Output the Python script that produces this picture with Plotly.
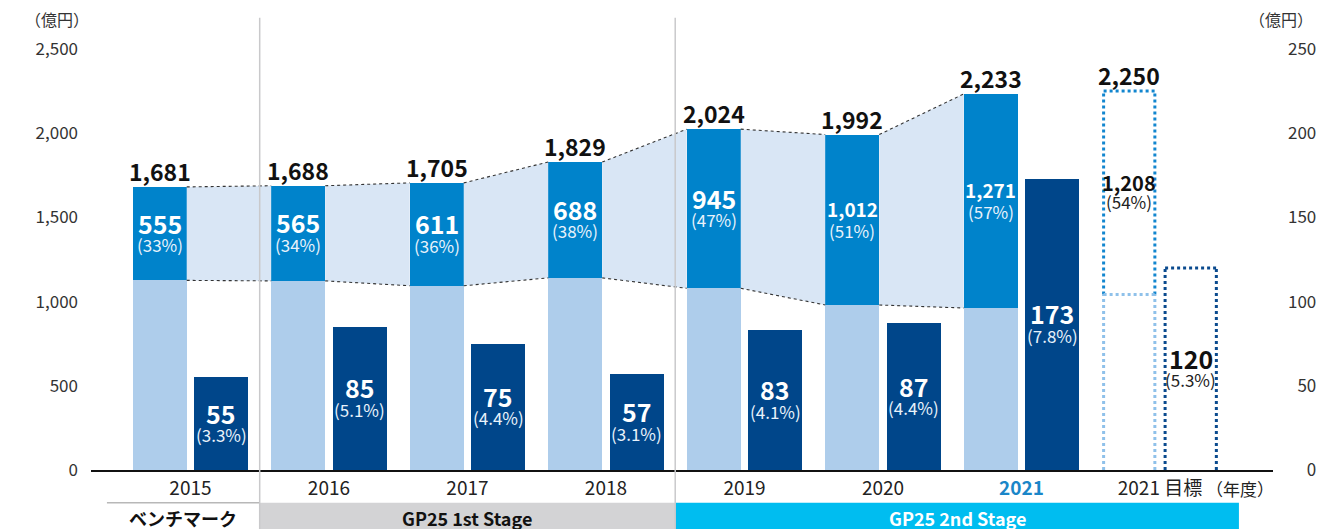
import plotly.graph_objects as go

# ---------------- data ----------------
years = ["2015", "2016", "2017", "2018", "2019", "2020", "2021"]
target_label = "2021 目標"
total_sales = [1681, 1688, 1705, 1829, 2024, 1992, 2233]
focus_sales = [555, 565, 611, 688, 945, 1012, 1271]
focus_share = ["33%", "34%", "36%", "38%", "47%", "51%", "57%"]
op_profit = [55, 85, 75, 57, 83, 87, 173]
op_margin = ["3.3%", "5.1%", "4.4%", "3.1%", "4.1%", "4.4%", "7.8%"]
target_total = 2250
target_focus = 1208
target_focus_share = "54%"
target_profit = 120
target_margin = "5.3%"
stages = ["ベンチマーク", "GP25 1st Stage", "GP25 2nd Stage"]
left_ticks = [0, 500, 1000, 1500, 2000, 2500]
right_ticks = [0, 50, 100, 150, 200, 250]

# ---------------- style ----------------
FONT = "Noto Sans CJK JP"
C_LIGHT = "#aecdeb"
C_MID = "#0083cb"
C_DARK = "#00468a"
C_BAND = "#d9e6f5"
C_CYAN = "#00bdf0"
C_GRAY = "#d3d3d5"
C_DIV = "#c9c9cb"
OFF = 0.222
W = 0.39
XMIN, XMAX = -0.718, 7.816

n = len(years)
xs = list(range(n + 1))
x_light = [i - OFF for i in range(n)]
x_dark = [i + OFF for i in range(n)]
lower = [t - f for t, f in zip(total_sales, focus_sales)]

fig = go.Figure()

# bands between consecutive focus segments
for i in range(n - 1):
    xa = x_light[i] + W / 2
    xb = x_light[i + 1] - W / 2
    fig.add_trace(go.Scatter(
        x=[xa, xb, xb, xa, xa],
        y=[total_sales[i], total_sales[i + 1], lower[i + 1], lower[i], total_sales[i]],
        fill="toself", fillcolor=C_BAND, mode="none", hoverinfo="skip", showlegend=False))
    for ya, yb in [(total_sales[i], total_sales[i + 1]), (lower[i], lower[i + 1])]:
        fig.add_trace(go.Scatter(
            x=[xa, xb], y=[ya, yb], mode="lines",
            line=dict(color="#333333", width=1.1, dash="dot"),
            hoverinfo="skip", showlegend=False))

# stacked sales bars
fig.add_trace(go.Bar(x=x_light, y=lower, width=W, marker=dict(color=C_LIGHT, line=dict(width=0)),
                     showlegend=False, hoverinfo="skip"))
fig.add_trace(go.Bar(x=x_light, y=focus_sales, base=lower, width=W,
                     marker=dict(color=C_MID, line=dict(width=0)), showlegend=False, hoverinfo="skip"))
# profit bars on right axis
fig.add_trace(go.Bar(x=x_dark, y=op_profit, width=W, yaxis="y2",
                     marker=dict(color=C_DARK, line=dict(width=0)), showlegend=False, hoverinfo="skip"))

# target dotted outlines
tx_l = n - OFF
tx_d = n + OFF
t_lower = target_total - target_focus
def dotted_box(xc, y0, y1, color, sides, yaxis="y"):
    xa, xb = xc - W / 2 + 0.01, xc + W / 2 - 0.01
    pts = {"left": ([xa, xa], [y0, y1]), "right": ([xb, xb], [y0, y1]),
           "top": ([xa, xb], [y1, y1])}
    for s in sides:
        px_, py_ = pts[s]
        fig.add_trace(go.Scatter(x=px_, y=py_, mode="lines", yaxis=yaxis,
                                 line=dict(color=color, width=3, dash="dot"),
                                 hoverinfo="skip", showlegend=False))

dotted_box(tx_l, t_lower, target_total, "#1286cf", ["left", "right", "top"])
dotted_box(tx_l, 0, t_lower, "#8fc1ea", ["left", "right", "top"])
dotted_box(tx_d, 0, target_profit, "#0a4a8e", ["left", "right", "top"], yaxis="y2")

ann = []
def A(x, y, text, size, color, bold=False, yshift=0, yref="y"):
    ann.append(dict(x=x, y=y, xref="x", yref=yref, text=f"<b>{text}</b>" if bold else text,
                    showarrow=False, yshift=yshift, xanchor="center",
                    font=dict(family=FONT, size=size, color=color)))

for i in range(n):
    A(x_light[i], total_sales[i], f"{total_sales[i]:,}", 23, "#111111", True, yshift=16)
    mid = lower[i] + focus_sales[i] / 2
    vs = 25 if focus_sales[i] < 1000 else 19
    A(x_light[i], mid, f"{focus_sales[i]:,}", vs, "white", True, yshift=11)
    A(x_light[i], mid, f"({focus_share[i]})", 17, "#e8f2fb", False, yshift=-11)
    pm = op_profit[i] / 2
    A(x_dark[i], pm, f"{op_profit[i]}", 25, "white", True, yshift=11, yref="y2")
    A(x_dark[i], pm, f"({op_margin[i]})", 17, "#e8f2fb", False, yshift=-11, yref="y2")

A(tx_l, target_total, f"{target_total:,}", 23, "#111111", True, yshift=16)
tm = t_lower + target_focus / 2
A(tx_l, tm, f"{target_focus:,}", 20, "#111111", True, yshift=10)
A(tx_l, tm, f"({target_focus_share})", 17, "#222222", False, yshift=-9)
A(tx_d, target_profit / 2, f"{target_profit}", 25, "#111111", True, yshift=11, yref="y2")
A(tx_d, target_profit / 2, f"({target_margin})", 17, "#222222", False, yshift=-11, yref="y2")

def px(xd):
    return (xd - XMIN) / (XMAX - XMIN)

# unit labels
ann.append(dict(x=-0.0288, y=1.0, xref="paper", yref="paper", xanchor="center", yanchor="bottom",
                yshift=16, text="（億円）", showarrow=False, font=dict(family=FONT, size=16, color="#333333")))
ann.append(dict(x=1.0068, y=1.0, xref="paper", yref="paper", xanchor="center", yanchor="bottom",
                yshift=16, text="（億円）", showarrow=False, font=dict(family=FONT, size=16, color="#333333")))
ann.append(dict(x=7.578, y=0, xref="x", yref="paper", xanchor="center", yanchor="middle", yshift=-18,
                text="（年度）", showarrow=False, font=dict(family=FONT, size=17, color="#222222")))

shapes = []
# stage bands at the bottom
band_top = -0.078
band_bot = -0.16
shapes.append(dict(type="line", xref="paper", yref="paper", x0=px(-0.603), x1=px(0.5),
                   y0=band_top, y1=band_top, line=dict(color="#b8b8b8", width=1.5)))
shapes.append(dict(type="rect", xref="paper", yref="paper", x0=px(0.5), x1=px(3.5),
                   y0=band_bot, y1=band_top, fillcolor=C_GRAY, line=dict(width=0), layer="below"))
shapes.append(dict(type="rect", xref="paper", yref="paper", x0=px(3.5), x1=px(7.57),
                   y0=band_bot, y1=band_top, fillcolor=C_CYAN, line=dict(width=0), layer="below"))
band_y = band_top - 0.036
for xc, txt, col in [((-0.603 + 0.5) / 2, stages[0], "#111111"), (2.0, stages[1], "#111111"),
                     ((3.5 + 7.57) / 2, stages[2], "white")]:
    ann.append(dict(x=px(xc), y=band_y, xref="paper", yref="paper", text=f"<b>{txt}</b>",
                    showarrow=False, xanchor="center", yanchor="middle",
                    font=dict(family=FONT, size=18, color=col)))
# dividers
for xd in [0.5, 3.5]:
    shapes.append(dict(type="line", xref="paper", yref="paper", x0=px(xd), x1=px(xd),
                       y0=band_bot, y1=1.074, line=dict(color=C_DIV, width=1.5)))

tick_text = years[:-1] + ["<b><span style='color:#1a86c8'>2021</span></b>", target_label]

# the page body adds an 8px offset; margins compensate so the plot area lands at x 91-1273, y 49-470
fig.update_layout(
    width=1332, height=529,
    margin=dict(l=83, r=67, t=41, b=67, autoexpand=False),
    paper_bgcolor="white", plot_bgcolor="white",
    barmode="overlay", bargap=0,
    font=dict(family=FONT, size=16, color="#333333"),
    xaxis=dict(range=[XMIN, XMAX], tickmode="array", tickvals=xs, ticktext=tick_text,
               showgrid=False, zeroline=False, showline=True, linecolor="#111111", linewidth=1.5,
               ticks="", automargin=False, ticklabelstandoff=0,
               tickfont=dict(family=FONT, size=19, color="#222222")),
    yaxis=dict(range=[0, 2500], tickmode="array", tickvals=left_ticks,
               ticktext=[f"{v:,}" for v in left_ticks], showgrid=False, zeroline=False,
               showline=False, ticks="", ticklabelstandoff=12, automargin=False,
               tickfont=dict(family=FONT, size=17, color="#333333")),
    yaxis2=dict(range=[0, 250], overlaying="y", side="right", tickmode="array",
                tickvals=right_ticks,
                ticktext=["\u2007" * (3 - len(str(v))) + str(v) for v in right_ticks],
                showgrid=False, zeroline=False, showline=False, ticks="", ticklabelstandoff=14,
                automargin=False,
                tickfont=dict(family=FONT, size=17, color="#333333")),
    annotations=ann, shapes=shapes,
)

fig.write_html("out.html")
